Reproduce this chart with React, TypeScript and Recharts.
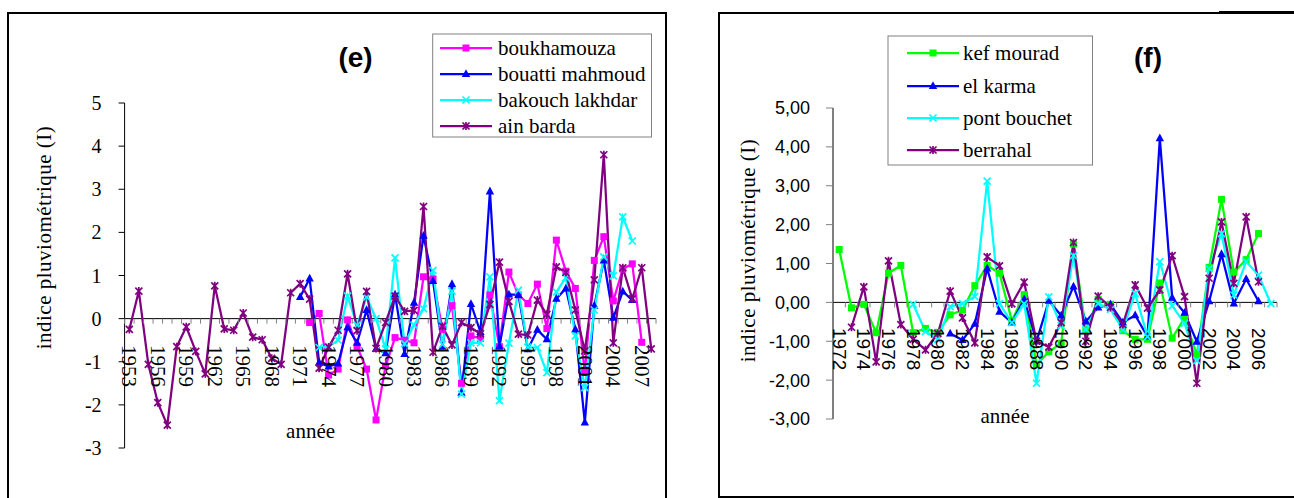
import React from 'react';
import { LineChart, Line, XAxis, YAxis, ReferenceLine } from 'recharts';

type Shape = 'square' | 'triangle' | 'cross' | 'star';

const PAGE_W = 1294;
const PAGE_H = 498;
const SERIF = '"Liberation Serif", "Times New Roman", serif';
const SANS = '"Liberation Sans", Arial, sans-serif';

// ---------- panel (e) ----------
const yearsE = { first: 1953, last: 2008 };
const yTicksE = [-3, -2, -1, 0, 1, 2, 3, 4, 5];

const boukhamouzaStart = 1972;
const boukhamouza = [
  -0.09, 0.12, -1.31, -1.17, -0.03, -0.65, -1.17, -2.35, -1.1, -0.44,
  -0.5, -0.56, 0.97, 0.92, -0.25, 0.3, -1.5, -0.4, -0.46, 0.55,
  -0.65, 1.08, 0.55, 0.35, 0.8, -0.23, 1.82, 1.1, 0.7, -1.25,
  1.35, 1.9, 0.41, 1.15, 1.27, -0.55,
];

const bouattiStart = 1971;
const bouattiMahmoud = [
  0.5, 0.93, -1.02, -1.11, -1.04, -0.2, -0.56, 0.2, -0.7, -0.8,
  0.56, -0.82, 0.37, 1.92, 0.87, -0.65, 0.8, -1.72, 0.34, -0.31,
  2.95, -0.64, 0.56, 0.55, -0.71, -0.26, -0.48, 0.46, 0.7, -0.25,
  -2.41, 0.3, 1.35, 0.02, 0.63, 0.43,
];

const bakouchStart = 1973;
const bakouchLakhdar = [
  -0.67, -0.65, -0.5, 0.52, -0.15, 0.5, 0, -0.7, 1.41, -0.58,
  -0.15, 0.23, 1.12, -0.6, 0.64, -1.75, -0.56, -0.56, 0.97, -1.9,
  -0.57, 0.66, -0.66, -0.67, -1.25, 0.62, 0.95, -0.4, -1.6, 0.2,
  1.43, 0.99, 2.36, 1.8,
];

const ainBardaStart = 1953;
const ainBarda = [
  -0.25, 0.64, -1.06, -1.95, -2.47, -0.65, -0.19, -0.76, -1.28, 0.76,
  -0.24, -0.27, 0.13, -0.43, -0.49, -0.92, -1.06, 0.6, 0.81, 0.45,
  -1.15, -0.66, -0.27, 1.04, -0.28, 0.63, -0.69, -0.09, 0.52, 0.17,
  0.19, 2.6, -0.78, -0.18, -0.61, -0.09, -0.21, -0.35, 0.33, 1.31,
  0.4, -0.36, -0.38, 0.43, 0.1, 1.2, 1.07, 0.2, -0.75, 0.9,
  3.8, -0.56, 1.18, 0.46, 1.18, -0.7,
];

// ---------- panel (f) ----------
const yearsF = { first: 1972, last: 2007 };
const yTicksF = [-3, -2, -1, 0, 1, 2, 3, 4, 5];

const kefMouradStart = 1972;
const kefMourad = [
  1.36, -0.14, -0.05, -0.78, 0.75, 0.95, -0.78, -0.67, -0.77, -0.32,
  -0.2, 0.43, 0.95, 0.75, -0.47, 0.2, -1.6, -1.27, -1.05, 1.5,
  -0.71, 0.08, -0.05, -0.73, -0.95, -0.95, 0.5, -0.92, -0.4, -1.35,
  0.9, 2.65, 0.78, 1.1, 1.77,
];

const elKarmaStart = 1981;
const elKarma = [
  -0.8, -0.97, -0.55, 0.87, -0.24, -0.52, 0.08, -1.0, 0.04, -0.34,
  0.41, -0.49, -0.13, -0.05, -0.52, -0.33, -0.88, 4.22, 0.12, -0.27,
  -1.01, 0.03, 1.24, -0.03, 0.6, 0.03,
];

const pontBouchetStart = 1978;
const pontBouchet = [
  -0.05, -0.75, -0.95, -0.11, -0.03, 0.15, 3.12, -0.03, -0.52, -0.03,
  -2.08, 0.14, -0.6, 1.2, -0.7, -0.03, -0.18, -0.7, 0.23, -0.88,
  1.05, -0.09, -0.54, -1.5, 0.87, 1.77, 0.19, 1.05, 0.7, -0.03,
];

const berrahalStart = 1973;
const berrahal = [
  -0.64, 0.4, -1.53, 1.07, -0.57, -0.95, -1.22, -0.8, 0.29, -0.4,
  -1.04, 1.17, 0.94, -0.04, 0.52, -1.0, -1.15, -0.52, 1.54, -1.0,
  0.16, -0.13, -0.57, 0.45, -0.15, 0.32, 1.2, 0.15, -2.08, 0.62,
  2.07, 0.49, 2.2, 0.53,
];

interface SeriesDef {
  key: string;
  name: string;
  color: string;
  shape: Shape;
  start: number;
  values: number[];
}

const seriesE: SeriesDef[] = [
  { key: 'boukhamouza', name: 'boukhamouza', color: '#FF00FF', shape: 'square', start: boukhamouzaStart, values: boukhamouza },
  { key: 'bouatti', name: 'bouatti mahmoud', color: '#0000FF', shape: 'triangle', start: bouattiStart, values: bouattiMahmoud },
  { key: 'bakouch', name: 'bakouch lakhdar', color: '#00FFFF', shape: 'cross', start: bakouchStart, values: bakouchLakhdar },
  { key: 'ainBarda', name: 'ain barda', color: '#800080', shape: 'star', start: ainBardaStart, values: ainBarda },
];

const seriesF: SeriesDef[] = [
  { key: 'kefMourad', name: 'kef mourad', color: '#00FF00', shape: 'square', start: kefMouradStart, values: kefMourad },
  { key: 'elKarma', name: 'el karma', color: '#0000FF', shape: 'triangle', start: elKarmaStart, values: elKarma },
  { key: 'pontBouchet', name: 'pont bouchet', color: '#00FFFF', shape: 'cross', start: pontBouchetStart, values: pontBouchet },
  { key: 'berrahal', name: 'berrahal', color: '#800080', shape: 'star', start: berrahalStart, values: berrahal },
];

function buildRows(first: number, last: number, series: SeriesDef[]) {
  const rows: any[] = [];
  for (let y = first; y <= last; y++) {
    const row: any = { year: y };
    series.forEach((s) => {
      const i = y - s.start;
      row[s.key] = i >= 0 && i < s.values.length ? s.values[i] : null;
    });
    rows.push(row);
  }
  return rows;
}

function marker(shape: Shape, color: string, cx: number, cy: number, key?: React.Key) {
  const r = 3.5;
  if (shape === 'square') {
    return <rect key={key} x={cx - r} y={cy - r} width={2 * r} height={2 * r} fill={color} />;
  }
  if (shape === 'triangle') {
    return <polygon key={key} points={`${cx},${cy - 4.8} ${cx + 4.2},${cy + 3} ${cx - 4.2},${cy + 3}`} fill={color} />;
  }
  let d = `M${cx - r},${cy - r}L${cx + r},${cy + r}M${cx - r},${cy + r}L${cx + r},${cy - r}`;
  if (shape === 'star') d += `M${cx},${cy - r - 0.5}L${cx},${cy + r + 0.5}`;
  return <path key={key} d={d} stroke={color} strokeWidth={1.7} fill="none" />;
}

interface PanelProps {
  left: number;
  width: number;
  plotLeft: number;
  plotRight: number;
  plotTop: number;
  plotBottom: number;
  first: number;
  last: number;
  series: SeriesDef[];
  yTicks: number[];
  yFmt: (v: number) => string;
  yFont: string;
  yFontSize: number;
  yTickColor: string;
  yTickSize: number;
  yTickMargin: number;
  xFont: string;
  xFontSize: number;
  labelEvery: number;
  labelTop: number;
}

const AXIS_W = 60;
const XAXIS_H = 20;

function Panel(p: PanelProps) {
  const data = buildRows(p.first, p.last, p.series);
  const n = p.last - p.first + 1;
  const step = (p.plotRight - p.plotLeft) / n;
  const yMin = p.yTicks[0];
  const yMax = p.yTicks[p.yTicks.length - 1];
  const zeroY = p.plotTop + (yMax / (yMax - yMin)) * (p.plotBottom - p.plotTop);
  const margin = {
    top: p.plotTop,
    bottom: PAGE_H - p.plotBottom - XAXIS_H,
    left: p.plotLeft - p.left - AXIS_W,
    right: p.left + p.width - p.plotRight,
  };

  const renderTick = (t: any) => {
    const { x, payload } = t;
    const idx = payload.value - p.first;
    return (
      <g>
        <line x1={x - step / 2} x2={x - step / 2} y1={zeroY} y2={zeroY + 5} stroke="#808080" />
        {payload.value === p.last && (
          <line x1={x + step / 2} x2={x + step / 2} y1={zeroY} y2={zeroY + 5} stroke="#808080" />
        )}
        {idx % p.labelEvery === 0 && (
          <text
            x={x}
            y={p.labelTop}
            transform={`rotate(90 ${x} ${p.labelTop})`}
            textAnchor="start"
            dominantBaseline="central"
            fontFamily={p.xFont}
            fontSize={p.xFontSize}
            fill="#000"
          >
            {payload.value}
          </text>
        )}
      </g>
    );
  };

  return (
    <div style={{ position: 'absolute', left: p.left, top: 0 }}>
      <LineChart width={p.width} height={PAGE_H} data={data} margin={margin}>
        <XAxis
          dataKey="year"
          interval={0}
          height={XAXIS_H}
          axisLine={false}
          tickLine={false}
          padding={{ left: step / 2, right: step / 2 }}
          tick={renderTick}
        />
        <YAxis
          type="number"
          domain={[yMin, yMax]}
          ticks={p.yTicks}
          interval={0}
          width={AXIS_W}
          tickSize={p.yTickSize}
          tickMargin={p.yTickMargin}
          axisLine={{ stroke: '#000' }}
          tickLine={{ stroke: p.yTickColor }}
          tick={{ fill: '#000', fontSize: p.yFontSize, fontFamily: p.yFont }}
          tickFormatter={p.yFmt}
        />
        <ReferenceLine y={0} stroke="#000" strokeWidth={1} />
        {p.series.map((s) => (
          <Line
            key={s.key}
            type="linear"
            dataKey={s.key}
            name={s.name}
            stroke={s.color}
            strokeWidth={2.25}
            activeDot={false}
            isAnimationActive={false}
            dot={(d: any) =>
              d.cx == null || d.cy == null || d.value == null ? (
                <g key={d.key ?? `${s.key}-${d.index}`} />
              ) : (
                marker(s.shape, s.color, d.cx, d.cy, d.key ?? `${s.key}-${d.index}`)
              )
            }
          />
        ))}
      </LineChart>
    </div>
  );
}

interface LegendBoxProps {
  x: number;
  y: number;
  w: number;
  h: number;
  rows: number[];
  lineX0: number;
  lineX1: number;
  textX: number;
  series: SeriesDef[];
}

function LegendBox(l: LegendBoxProps) {
  const mid = (l.lineX0 + l.lineX1) / 2;
  return (
    <g>
      <rect x={l.x} y={l.y} width={l.w} height={l.h} fill="#fff" stroke="#808080" strokeWidth={1} />
      {l.series.map((s, i) => (
        <g key={s.key}>
          <line x1={l.lineX0} x2={l.lineX1} y1={l.rows[i]} y2={l.rows[i]} stroke={s.color} strokeWidth={2.25} />
          {marker(s.shape, s.color, mid, l.rows[i])}
          <text x={l.textX} y={l.rows[i]} dominantBaseline="central" fontFamily={SERIF} fontSize={21} fill="#000">
            {s.name}
          </text>
        </g>
      ))}
    </g>
  );
}

export default function App() {
  return (
    <div style={{ position: 'absolute', left: 0, top: 0, width: PAGE_W, height: PAGE_H, overflow: 'hidden', background: '#fff' }}>
      <div style={{ position: 'absolute', left: 7, top: 12, width: 656, height: 520, border: '2px solid #000' }} />
      <div style={{ position: 'absolute', left: 718, top: 12, width: 700, height: 482, border: '2px solid #000' }} />
      <div style={{ position: 'absolute', left: 1219, top: 11, width: 80, height: 2, background: '#000' }} />

      <Panel
        left={0}
        width={670}
        plotLeft={124.6}
        plotRight={656}
        plotTop={103}
        plotBottom={448}
        first={yearsE.first}
        last={yearsE.last}
        series={seriesE}
        yTicks={yTicksE}
        yFmt={(v) => String(v)}
        yFont={SERIF}
        yFontSize={20}
        yTickColor="#000"
        yTickSize={6}
        yTickMargin={17}
        xFont={SERIF}
        xFontSize={21}
        labelEvery={3}
        labelTop={345}
      />
      <Panel
        left={680}
        width={614}
        plotLeft={833}
        plotRight={1277}
        plotTop={108}
        plotBottom={419}
        first={yearsF.first}
        last={yearsF.last}
        series={seriesF}
        yTicks={yTicksF}
        yFmt={(v) => v.toFixed(2).replace('.', ',')}
        yFont={SANS}
        yFontSize={18}
        yTickColor="#808080"
        yTickSize={7}
        yTickMargin={16}
        xFont={SANS}
        xFontSize={19}
        labelEvery={2}
        labelTop={328}
      />

      <svg width={PAGE_W} height={PAGE_H} style={{ position: 'absolute', left: 0, top: 0, pointerEvents: 'none' }}>
        <text x={355.6} y={57} textAnchor="middle" dominantBaseline="central" fontFamily={SANS} fontWeight="bold" fontSize={28} fill="#000">
          (e)
        </text>
        <text x={1148} y={57} textAnchor="middle" dominantBaseline="central" fontFamily={SANS} fontWeight="bold" fontSize={28} fill="#000">
          (f)
        </text>
        <text
          x={44}
          y={237.5}
          transform="rotate(-90 44 237.5)"
          textAnchor="middle"
          dominantBaseline="central"
          fontFamily={SERIF}
          fontSize={21}
          letterSpacing={0.5}
          fill="#000"
        >
          indice pluviométrique (I)
        </text>
        <text
          x={748}
          y={250.5}
          transform="rotate(-90 748 250.5)"
          textAnchor="middle"
          dominantBaseline="central"
          fontFamily={SERIF}
          fontSize={21}
          letterSpacing={0.5}
          fill="#000"
        >
          indice pluviométrique (I)
        </text>
        <text x={310.6} y={438} textAnchor="middle" fontFamily={SERIF} fontSize={21} fill="#000">
          année
        </text>
        <text x={1005} y={423} textAnchor="middle" fontFamily={SERIF} fontSize={21} fill="#000">
          année
        </text>
        <LegendBox x={432.7} y={34} w={218.8} h={103} rows={[48, 74, 100, 126]} lineX0={440} lineX1={492} textX={498} series={seriesE} />
        <LegendBox x={888} y={36} w={204.5} h={129} rows={[53, 86, 118, 150]} lineX0={907} lineX1={959} textX={963} series={seriesF} />
      </svg>
    </div>
  );
}
